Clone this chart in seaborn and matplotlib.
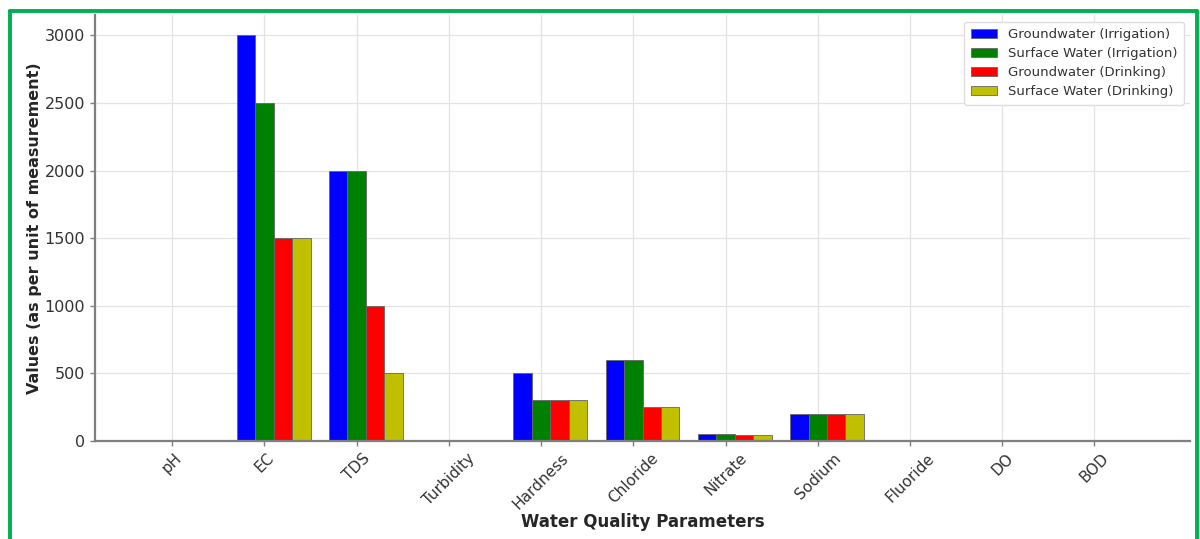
import numpy as np
import pandas as pd
import seaborn as sns
import matplotlib.pyplot as plt
from matplotlib.lines import Line2D

parameters = ["pH", "EC", "TDS", "Turbidity", "Hardness", "Chloride",
              "Nitrate", "Sodium", "Fluoride", "DO", "BOD"]
series_names = ["Groundwater (Irrigation)", "Surface Water (Irrigation)",
                "Groundwater (Drinking)", "Surface Water (Drinking)"]
gw_irrigation = [8, 3000, 2000, 5, 500, 600, 50, 200, 1.5, 5, 3]
sw_irrigation = [8, 2500, 2000, 5, 300, 600, 50, 200, 1.5, 5, 3]
gw_drinking = [7.5, 1500, 1000, 5, 300, 250, 45, 200, 1.5, 5, 3]
sw_drinking = [7.5, 1500, 500, 5, 300, 250, 45, 200, 1.5, 5, 3]
y_ticks = [0, 500, 1000, 1500, 2000, 2500, 3000]
colors = ["#0000ff", "#008000", "#ff0000", "#c0c000"]

all_series = [gw_irrigation, sw_irrigation, gw_drinking, sw_drinking]
rows = []
for name, vals in zip(series_names, all_series):
    for p, v in zip(parameters, vals):
        rows.append({"Parameter": p, "Value": v, "Series": name})
df = pd.DataFrame(rows)

sns.set_style("whitegrid")
plt.rcParams['font.family'] = ['DejaVu Sans']

fig = plt.figure(figsize=(12, 5.39), dpi=100)
ax = fig.add_axes([0.079, 0.182, 0.913, 0.79])

sns.barplot(data=df, x="Parameter", y="Value", hue="Series",
            order=parameters, hue_order=series_names, palette=colors,
            width=0.8, saturation=1, errorbar=None,
            edgecolor="#666666", linewidth=0.6, ax=ax)

n = len(parameters)
ax.set_xticks(np.arange(n) - 0.1)
ax.set_xticklabels(parameters, rotation=45, ha="center", fontsize=11, color="#333333")
ax.set_yticks(y_ticks)
ax.set_yticklabels([str(t) for t in y_ticks], fontsize=11.5, color="#333333")
ax.set_xlim(-0.94, 10.94)
ax.set_ylim(0, 3150)

ax.set_xlabel("Water Quality Parameters", fontsize=12, fontweight="bold", labelpad=1)
ax.set_ylabel("Values (as per unit of measurement)", fontsize=11.5, fontweight="bold", labelpad=2)

ax.grid(True, color="#e3e3e3", linewidth=0.9)
ax.set_axisbelow(True)
for s in ["top", "right"]:
    ax.spines[s].set_visible(False)
for s in ["left", "bottom"]:
    ax.spines[s].set_color("#7f7f7f")
    ax.spines[s].set_linewidth(1.6)
ax.tick_params(axis="both", which="both", length=3.5, width=1, color="#7f7f7f",
               bottom=True, left=True, direction="out")

leg = ax.legend(loc="upper right", fontsize=9.5, frameon=True,
                edgecolor="#dddddd", framealpha=1, borderpad=0.5,
                handlelength=2.0, labelspacing=0.45)
for t in leg.get_texts():
    t.set_color("#333333")

green = "#00b050"
W, H = 1200, 539
fig.add_artist(Line2D([10 / W, 10 / W], [0, 1 - 11 / H], transform=fig.transFigure,
                      color=green, linewidth=2.8))
fig.add_artist(Line2D([10 / W, 1197 / W], [1 - 11 / H, 1 - 11 / H], transform=fig.transFigure,
                      color=green, linewidth=2.8))
fig.add_artist(Line2D([1197 / W, 1197 / W], [0, 1 - 11 / H], transform=fig.transFigure,
                      color=green, linewidth=2.8))

fig.savefig("out.png", dpi=100)
